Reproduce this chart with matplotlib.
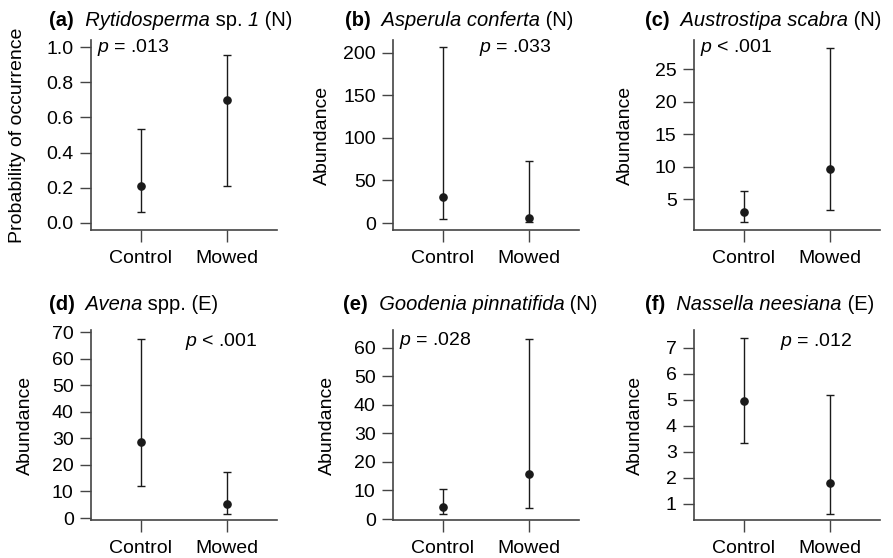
import matplotlib
matplotlib.use("Agg")
import matplotlib.pyplot as plt

plt.rcParams['font.family'] = ['Liberation Sans', 'DejaVu Sans']
plt.rcParams['mathtext.fontset'] = 'custom'
plt.rcParams['mathtext.rm'] = 'Liberation Sans'
plt.rcParams['mathtext.it'] = 'Liberation Sans:italic'
plt.rcParams['mathtext.bf'] = 'Liberation Sans:bold'

categories = ["Control", "Mowed"]

# title pieces: (text, weight, style)
titles = [
    [("(a)", "bold", "normal"), ("  Rytidosperma", "normal", "italic"), (" sp. ", "normal", "normal"),
     ("1", "normal", "italic"), (" (N)", "normal", "normal")],
    [("(b)", "bold", "normal"), ("  Asperula conferta", "normal", "italic"), (" (N)", "normal", "normal")],
    [("(c)", "bold", "normal"), ("  Austrostipa scabra", "normal", "italic"), (" (N)", "normal", "normal")],
    [("(d)", "bold", "normal"), ("  Avena", "normal", "italic"), (" spp. (E)", "normal", "normal")],
    [("(e)", "bold", "normal"), ("  Goodenia pinnatifida", "normal", "italic"), (" (N)", "normal", "normal")],
    [("(f)", "bold", "normal"), ("  Nassella neesiana", "normal", "italic"), (" (E)", "normal", "normal")],
]
ylabels = ["Probability of occurrence", "Abundance", "Abundance",
           "Abundance", "Abundance", "Abundance"]
p_texts = [r"$\mathit{p}$ = .013", r"$\mathit{p}$ = .033", r"$\mathit{p}$ < .001",
           r"$\mathit{p}$ < .001", r"$\mathit{p}$ = .028", r"$\mathit{p}$ = .012"]

# estimates and confidence intervals (Control, Mowed)
est_a = [0.21, 0.70];  lo_a = [0.06, 0.21];  hi_a = [0.535, 0.955]
est_b = [31, 6];       lo_b = [5, 1];        hi_b = [207, 73]
est_c = [3.0, 9.7];    lo_c = [1.4, 3.3];    hi_c = [6.3, 28.3]
est_d = [28.7, 5.2];   lo_d = [12, 1.5];     hi_d = [67.5, 17.3]
est_e = [4.3, 15.7];   lo_e = [1.8, 3.8];    hi_e = [10.5, 63.3]
est_f = [4.95, 1.8];   lo_f = [3.33, 0.62];  hi_f = [7.38, 5.2]

yticks = [
    [0.0, 0.2, 0.4, 0.6, 0.8, 1.0],
    [0, 50, 100, 150, 200],
    [5, 10, 15, 20, 25],
    [0, 10, 20, 30, 40, 50, 60, 70],
    [0, 10, 20, 30, 40, 50, 60],
    [1, 2, 3, 4, 5, 6, 7],
]
ytick_labels = [
    ["0.0", "0.2", "0.4", "0.6", "0.8", "1.0"],
    None, None, None, None, None,
]
ylims = [(-0.04, 1.04), (-8.2, 215), (0.23, 29.5), (-0.75, 70.8), (-0.35, 66.3), (0.38, 7.69)]

data = [(est_a, lo_a, hi_a), (est_b, lo_b, hi_b), (est_c, lo_c, hi_c),
        (est_d, lo_d, hi_d), (est_e, lo_e, hi_e), (est_f, lo_f, hi_f)]

# layout (pixels)
W, H = 893, 558
lefts = [91, 393, 694]
rows = [(40, 230), (330, 520)]
aw = 186
p_pos = [(0.03, 0.96, 'left'), (0.855, 0.958, 'right'), (0.03, 0.958, 'left'),
         (0.505, 0.937, 'left'), (0.03, 0.947, 'left'), (0.855, 0.937, 'right')]
ylab_x = [18, 322, 625, 25, 327, 635]
title_x = [49, 345, 645, 49, 343, 645]
title_y = [18, 18, 18, 302, 302, 302]

fs = 14
tfs = 14.5
col = '#1a1a1a'

fig = plt.figure(figsize=(W / 100, H / 100), dpi=100)
renderer = fig.canvas.get_renderer()
for i in range(6):
    r, c = divmod(i, 3)
    top, bot = rows[r]
    ax = fig.add_axes([lefts[c] / W, 1 - bot / H, aw / W, (bot - top) / H])
    est, lo, hi = data[i]
    x = list(range(len(categories)))
    yerr = [[e - l for e, l in zip(est, lo)], [h - e for e, h in zip(est, hi)]]
    ax.errorbar(x, est, yerr=yerr, fmt='o', color=col, ecolor=col, ms=5.2,
                elinewidth=1.0, capsize=2.6, capthick=1.0)
    ax.set_xlim(-0.58, 1.58)
    ax.set_ylim(*ylims[i])
    ax.set_xticks(x)
    ax.set_xticklabels(categories, fontsize=fs)
    ax.set_yticks(yticks[i])
    if ytick_labels[i] is not None:
        ax.set_yticklabels(ytick_labels[i])
    ax.tick_params(axis='y', labelsize=fs, length=8, width=1.0, color='#444444', pad=4.5)
    ax.tick_params(axis='x', labelsize=fs, length=8.5, width=1.0, color='#444444', pad=6)
    for s in ['top', 'right']:
        ax.spines[s].set_visible(False)
    for s in ['left', 'bottom']:
        ax.spines[s].set_color('#444444')
        ax.spines[s].set_linewidth(1.2)
    px, py, ha = p_pos[i]
    ax.text(px, py, p_texts[i], transform=ax.transAxes, ha=ha, va='center', fontsize=fs)
    fig.text(ylab_x[i] / W, 1 - ((top + bot) / 2) / H, ylabels[i], rotation=90,
             ha='center', va='center', fontsize=fs)
    xx = title_x[i]
    for txt, wt, st in titles[i]:
        t = fig.text(xx / W, 1 - title_y[i] / H, txt, ha='left', va='center_baseline',
                     fontsize=tfs, fontweight=wt, fontstyle=st)
        xx += t.get_window_extent(renderer=renderer).width

fig.savefig("out.png", dpi=100)
